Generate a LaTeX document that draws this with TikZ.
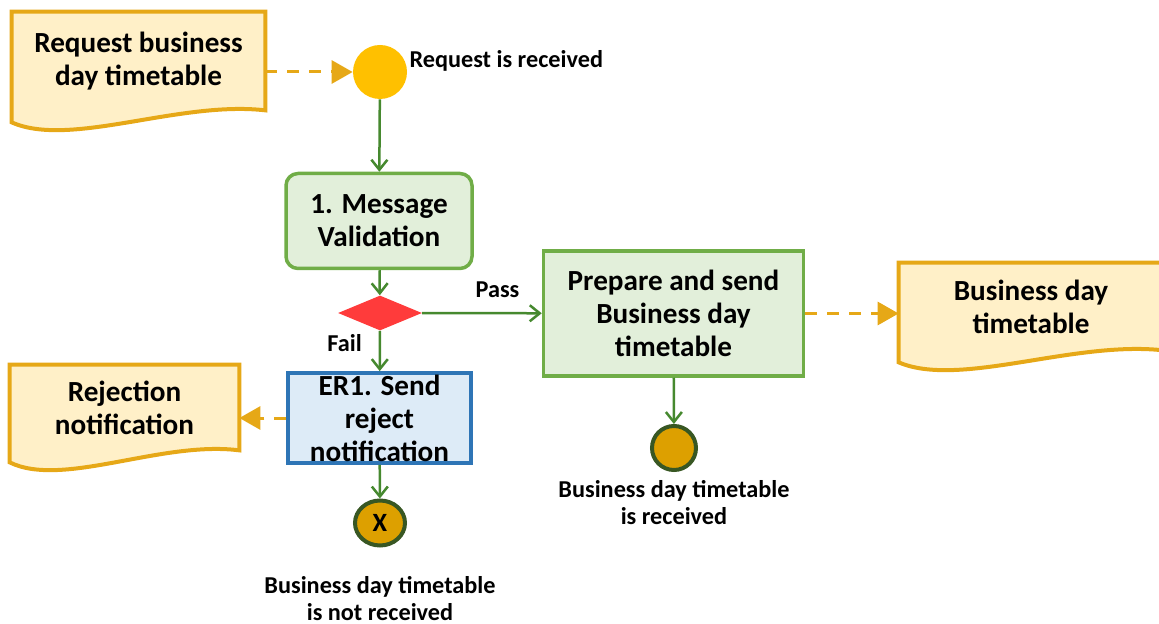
\documentclass[tikz,border=0pt]{standalone}
\usepackage{fontspec}
\setmainfont{Carlito}
\usetikzlibrary{shapes.geometric,arrows.meta,positioning,backgrounds,calc}
\definecolor{gold}{HTML}{E6A817}
\definecolor{goldlt}{HTML}{FFF0C8}
\definecolor{sun}{HTML}{FFC000}
\definecolor{leaf}{HTML}{70AD47}
\definecolor{leaflt}{HTML}{E2EFDA}
\definecolor{moss}{HTML}{46892F}
\definecolor{forest}{HTML}{385723}
\definecolor{ochre}{HTML}{DDA000}
\definecolor{ocean}{HTML}{2E75B6}
\definecolor{oceanlt}{HTML}{DDEBF7}
\definecolor{alarm}{HTML}{FF3B3B}
\tikzset{
  txt/.style={font=\fontsize{16.6}{18.8}\selectfont\bfseries,align=center},
  lbl/.style={font=\fontsize{13.8}{15.3}\selectfont\bfseries,align=center},
  doc/.style={txt,rectangle,inner sep=2pt},
  docline/.style={draw=gold,fill=goldlt,line width=0.08cm},
  task/.style={txt,rectangle,draw=leaf,fill=leaflt,line width=0.07cm},
  errtask/.style={txt,rectangle,draw=ocean,fill=oceanlt,line width=0.07cm},
  gatew/.style={diamond,aspect=2.4,fill=alarm,inner sep=0pt,
                minimum width=1.68cm,minimum height=0.7cm},
  evstart/.style={circle,fill=sun,minimum size=1.08cm,inner sep=0pt},
  evend/.style={circle,draw=forest,fill=ochre,line width=0.08cm,
                minimum size=0.88cm,inner sep=0pt},
  flow/.style={draw=moss,line width=0.05cm,
               -{Straight Barb[length=0.2cm,width=0.32cm]}},
  msg/.style={draw=gold,line width=0.06cm,dash pattern=on 0.24cm off 0.2cm,
              -{Triangle[length=0.42cm,width=0.46cm]}},
}
\begin{document}
\begin{tikzpicture}

  \useasboundingbox (0,0) rectangle (23.18,-12.48);

  %% -- documents ------------------------------------------------------------
  \node[doc,minimum width=5.06cm,minimum height=1.96cm] (reqdoc) at (2.77,-1.22)
        {Request business\\day timetable};
  \node[doc,minimum width=4.58cm,minimum height=1.7cm] (rejdoc) at (2.49,-8.15)
        {Rejection\\notification};
  \node[doc,minimum width=5.28cm,minimum height=1.74cm] (bdtdoc) at (20.62,-6.13)
        {Business day\\timetable};

  %% -- events ---------------------------------------------------------------
  \node[evstart] (start) at (7.6,-1.44) {};
  \node[lbl,anchor=west] (startlbl) at ($(start.east)+(-0.08,0.22)$) {Request is received};

  %% -- tasks ----------------------------------------------------------------
  \node[task,rounded corners=0.24cm,minimum width=3.72cm,minimum height=1.9cm]
        (msgval) at (7.58,-4.42) {1. Message\\Validation};
  \node[gatew] (gate) at (7.6,-6.26) {};
  \node[task,minimum width=5.2cm,minimum height=2.5cm]
        (prepare) at (13.47,-6.27) {Prepare and send\\Business day\\timetable};
  \node[errtask,minimum width=3.66cm,minimum height=1.78cm,inner sep=1pt]
        (reject) at (7.59,-8.36) {ER1. Send\\reject\\notification};

  %% -- end events -----------------------------------------------------------
  \node[evend] (endok) at (13.48,-8.96) {};
  \node[lbl,below=0.05cm of endok] (endoklbl) {Business day timetable\\is received};
  \node[evend,ellipse,minimum width=1.0cm,minimum height=0.9cm,
        font=\fontsize{15}{17}\selectfont\bfseries] (endx) at (7.6,-10.46) {X};
  \node[lbl,below=0.45cm of endx] (endxlbl) {Business day timetable\\is not received};

  %% -- sequence flows -------------------------------------------------------
  \draw[flow] (start) -- (msgval);
  \draw[flow] (msgval) -- (gate);
  \draw[flow] (gate) -- (prepare)
    node[lbl,pos=0.63,above=0.16cm] {Pass};
  \draw[flow] (gate) -- (reject)
    node[lbl,pos=0.3,left=0.22cm] {Fail};
  \draw[flow] (prepare) -- (endok);
  \draw[flow] (reject) -- (endx);

  %% -- message flows --------------------------------------------------------
  \draw[msg] (reqdoc.east |- start) -- (start.west);
  \draw[msg] (prepare.east) -- (prepare.east -| bdtdoc.west);
  \draw[msg] (reject.west) -- (reject.west -| rejdoc.east);

  %% -- document outlines ----------------------------------------------------
  \begin{scope}[on background layer]
    \foreach \d in {reqdoc,rejdoc,bdtdoc}
      \draw[docline] (\d.south east) -- (\d.north east) -- (\d.north west)
        -- ($(\d.south west)+(0,-0.24)$)
        .. controls ($(\d.south west)!0.23!(\d.south east)+(0,-0.76)$)
        and ($(\d.south west)!0.66!(\d.south east)+(0,0.2)$) .. (\d.south east)
        -- cycle;
  \end{scope}

\end{tikzpicture}
\end{document}
